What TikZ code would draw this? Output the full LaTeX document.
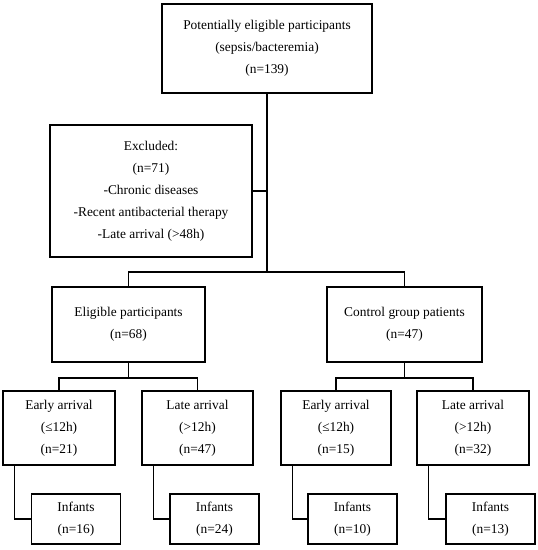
\documentclass[tikz,border=0pt]{standalone}
\usepackage{fontspec}
\setmainfont{Liberation Serif}
\begin{document}
\begin{tikzpicture}[x=1pt,y=-1pt,
  box/.style={draw, line width=1.4pt, align=center, inner sep=0pt,
    font={\fontsize{13.4}{22}\selectfont}},
  conn/.style={line width=1.4pt}]
\useasboundingbox (0,0) rectangle (538,550);
% boxes
\node[box, minimum width=210pt, minimum height=89pt] (top) at (267,48.5)
  {Potentially eligible participants\\(sepsis/bacteremia)\\(n=139)};
\node[box, minimum width=202pt, minimum height=132pt] (excl) at (151,191)
  {Excluded:\\(n=71)\\-Chronic diseases\\-Recent antibacterial therapy\\-Late arrival (>48h)};
\node[box, minimum width=153pt, minimum height=75pt] (elig) at (128.5,324.5)
  {Eligible participants\\(n=68)};
\node[box, minimum width=155pt, minimum height=75pt] (ctrl) at (404.5,324.5)
  {Control group patients\\(n=47)};
\node[box, minimum width=112pt, minimum height=74pt] (e1) at (59,428)
  {Early arrival\\(≤12h)\\(n=21)};
\node[box, minimum width=111pt, minimum height=74pt] (l1) at (197.5,428)
  {Late arrival\\(>12h)\\(n=47)};
\node[box, minimum width=110pt, minimum height=74pt] (e2) at (336,428)
  {Early arrival\\(≤12h)\\(n=15)};
\node[box, minimum width=112pt, minimum height=74pt] (l2) at (473,428)
  {Late arrival\\(>12h)\\(n=32)};
\node[box, minimum width=89pt, minimum height=50pt] (i1) at (76,519)
  {Infants\\(n=16)};
\node[box, minimum width=89pt, minimum height=50pt] (i2) at (214.5,519)
  {Infants\\(n=24)};
\node[box, minimum width=89pt, minimum height=50pt] (i3) at (352.5,519)
  {Infants\\(n=10)};
\node[box, minimum width=89pt, minimum height=50pt] (i4) at (490.5,519)
  {Infants\\(n=13)};
% junctions
\coordinate (j1) at (267,272);
\coordinate (j2) at (128.5,378);
\coordinate (j3) at (404.5,378);
% connectors
\draw[conn] (top.south) -- (j1);
\draw[conn] (excl.east) -- (excl.east -| top.south);
\draw[conn] (elig.north) |- (j1) -| (ctrl.north);
\draw[conn] (elig.south) -- (j2);
\draw[conn] (ctrl.south) -- (j3);
\draw[conn] (e1.north) |- (j2) -| (l1.north);
\draw[conn] (e2.north) |- (j3) -| (l2.north);
\draw[conn] ([xshift=12pt]e1.south west) |- (i1.west);
\draw[conn] ([xshift=12pt]l1.south west) |- (i2.west);
\draw[conn] ([xshift=12pt]e2.south west) |- (i3.west);
\draw[conn] ([xshift=12pt]l2.south west) |- (i4.west);
\end{tikzpicture}
\end{document}
